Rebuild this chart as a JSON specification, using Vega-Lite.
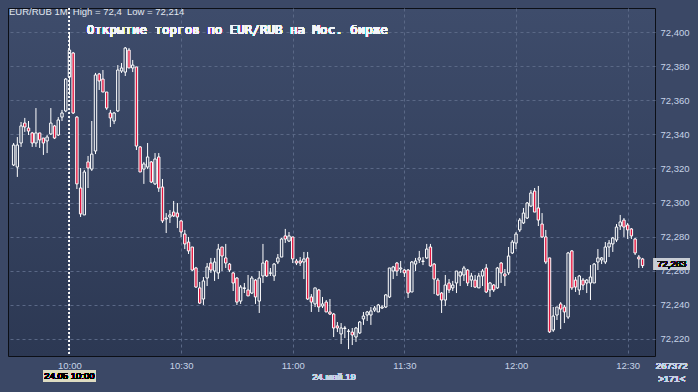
{
  "$schema": "https://vega.github.io/schema/vega-lite/v6.json",
  "width": 647,
  "height": 348,
  "autosize": {"type": "none"},
  "padding": {"left": 8, "top": 8, "right": 43, "bottom": 36},
  "background": "#3b4866",
  "config": {
    "view": {
      "stroke": "#0c0f16",
      "strokeWidth": 1,
      "fill": {"gradient": "linear", "x1": 0, "y1": 0, "x2": 0, "y2": 1, "stops": [{"offset": 0, "color": "#3e4c6b"}, {"offset": 1, "color": "#2c3853"}]}
    },
    "font": "Liberation Sans",
    "axis": {"labelOverlap": false, "labelFlush": false, "grid": true, "gridColor": "#5a6886", "gridDash": [3, 3], "gridWidth": 1, "domain": false, "ticks": false, "labelColor": "#c6d3e6", "labelFont": "Liberation Sans", "labelFontSize": 9.5},
    "axisX": {"labelPadding": 4},
    "axisY": {"labelPadding": 5, "labelBaseline": "middle", "labelExpr": "replace(format(datum.value, '.3f'), '.', ',')"}
  },
  "title": {
    "text": "EUR/RUB 1M\u00a0 High\u00a0=\u00a072,4\u00a0 Low\u00a0=\u00a072,214",
    "anchor": "start",
    "frame": "group",
    "orient": "top",
    "offset": -19,
    "dx": 1,
    "fontSize": 9.5,
    "font": "Liberation Sans",
    "fontWeight": "normal",
    "color": "#e2e8f0",
    "baseline": "bottom"
  },
  "data": {
    "format": {"parse": {"t": "date:'%H:%M'"}},
    "values": [
      {"t": "09:45", "o": 72.3220, "h": 72.3349, "l": 72.3214, "c": 72.3337},
      {"t": "09:46", "o": 72.3208, "h": 72.3384, "l": 72.3150, "c": 72.3337},
      {"t": "09:47", "o": 72.3349, "h": 72.3472, "l": 72.3326, "c": 72.3449},
      {"t": "09:48", "o": 72.3466, "h": 72.3496, "l": 72.3414, "c": 72.3443},
      {"t": "09:49", "o": 72.3437, "h": 72.3478, "l": 72.3396, "c": 72.3419},
      {"t": "09:50", "o": 72.3408, "h": 72.3414, "l": 72.3326, "c": 72.3349},
      {"t": "09:51", "o": 72.3349, "h": 72.3554, "l": 72.3326, "c": 72.3408},
      {"t": "09:52", "o": 72.3408, "h": 72.3408, "l": 72.3320, "c": 72.3367},
      {"t": "09:53", "o": 72.3378, "h": 72.3378, "l": 72.3279, "c": 72.3349},
      {"t": "09:54", "o": 72.3361, "h": 72.3396, "l": 72.3290, "c": 72.3384},
      {"t": "09:55", "o": 72.3402, "h": 72.3554, "l": 72.3396, "c": 72.3466},
      {"t": "09:56", "o": 72.3449, "h": 72.3455, "l": 72.3372, "c": 72.3378},
      {"t": "09:57", "o": 72.3396, "h": 72.3501, "l": 72.3390, "c": 72.3484},
      {"t": "09:58", "o": 72.3501, "h": 72.3543, "l": 72.3478, "c": 72.3525},
      {"t": "09:59", "o": 72.3537, "h": 72.3730, "l": 72.3530, "c": 72.3724},
      {"t": "10:00", "o": 72.3736, "h": 72.4000, "l": 72.3631, "c": 72.3894},
      {"t": "10:01", "o": 72.3877, "h": 72.3883, "l": 72.3519, "c": 72.3525},
      {"t": "10:02", "o": 72.3501, "h": 72.3507, "l": 72.3079, "c": 72.3109},
      {"t": "10:03", "o": 72.3085, "h": 72.3202, "l": 72.2915, "c": 72.2933},
      {"t": "10:04", "o": 72.2927, "h": 72.3191, "l": 72.2927, "c": 72.3179},
      {"t": "10:05", "o": 72.3238, "h": 72.3273, "l": 72.3085, "c": 72.3202},
      {"t": "10:06", "o": 72.3196, "h": 72.3478, "l": 72.3185, "c": 72.3284},
      {"t": "10:07", "o": 72.3302, "h": 72.3760, "l": 72.3284, "c": 72.3748},
      {"t": "10:08", "o": 72.3754, "h": 72.3760, "l": 72.3660, "c": 72.3713},
      {"t": "10:09", "o": 72.3724, "h": 72.3777, "l": 72.3648, "c": 72.3648},
      {"t": "10:10", "o": 72.3648, "h": 72.3648, "l": 72.3543, "c": 72.3554},
      {"t": "10:11", "o": 72.3525, "h": 72.3543, "l": 72.3443, "c": 72.3496},
      {"t": "10:12", "o": 72.3478, "h": 72.3531, "l": 72.3460, "c": 72.3525},
      {"t": "10:13", "o": 72.3537, "h": 72.3806, "l": 72.3531, "c": 72.3777},
      {"t": "10:14", "o": 72.3771, "h": 72.3818, "l": 72.3760, "c": 72.3789},
      {"t": "10:15", "o": 72.3765, "h": 72.3912, "l": 72.3742, "c": 72.3906},
      {"t": "10:16", "o": 72.3894, "h": 72.3906, "l": 72.3789, "c": 72.3789},
      {"t": "10:17", "o": 72.3789, "h": 72.3836, "l": 72.3765, "c": 72.3806},
      {"t": "10:18", "o": 72.3795, "h": 72.3795, "l": 72.3308, "c": 72.3331},
      {"t": "10:19", "o": 72.3326, "h": 72.3331, "l": 72.3179, "c": 72.3179},
      {"t": "10:20", "o": 72.3196, "h": 72.3238, "l": 72.3109, "c": 72.3226},
      {"t": "10:21", "o": 72.3208, "h": 72.3349, "l": 72.3196, "c": 72.3267},
      {"t": "10:22", "o": 72.3238, "h": 72.3243, "l": 72.3114, "c": 72.3120},
      {"t": "10:23", "o": 72.3109, "h": 72.3290, "l": 72.3103, "c": 72.3255},
      {"t": "10:24", "o": 72.3267, "h": 72.3290, "l": 72.3062, "c": 72.3085},
      {"t": "10:25", "o": 72.3091, "h": 72.3138, "l": 72.2880, "c": 72.2892},
      {"t": "10:26", "o": 72.2903, "h": 72.2938, "l": 72.2821, "c": 72.2909},
      {"t": "10:27", "o": 72.2915, "h": 72.2956, "l": 72.2880, "c": 72.2927},
      {"t": "10:28", "o": 72.2944, "h": 72.3009, "l": 72.2915, "c": 72.2921},
      {"t": "10:29", "o": 72.2938, "h": 72.2997, "l": 72.2850, "c": 72.2915},
      {"t": "10:30", "o": 72.2892, "h": 72.2897, "l": 72.2798, "c": 72.2827},
      {"t": "10:31", "o": 72.2815, "h": 72.2839, "l": 72.2727, "c": 72.2757},
      {"t": "10:32", "o": 72.2768, "h": 72.2798, "l": 72.2698, "c": 72.2716},
      {"t": "10:33", "o": 72.2739, "h": 72.2739, "l": 72.2598, "c": 72.2604},
      {"t": "10:34", "o": 72.2616, "h": 72.2622, "l": 72.2499, "c": 72.2504},
      {"t": "10:35", "o": 72.2499, "h": 72.2534, "l": 72.2405, "c": 72.2410},
      {"t": "10:36", "o": 72.2434, "h": 72.2563, "l": 72.2399, "c": 72.2540},
      {"t": "10:37", "o": 72.2557, "h": 72.2645, "l": 72.2510, "c": 72.2622},
      {"t": "10:38", "o": 72.2645, "h": 72.2675, "l": 72.2587, "c": 72.2604},
      {"t": "10:39", "o": 72.2598, "h": 72.2675, "l": 72.2540, "c": 72.2651},
      {"t": "10:40", "o": 72.2587, "h": 72.2757, "l": 72.2551, "c": 72.2727},
      {"t": "10:41", "o": 72.2739, "h": 72.2739, "l": 72.2598, "c": 72.2686},
      {"t": "10:42", "o": 72.2675, "h": 72.2757, "l": 72.2616, "c": 72.2645},
      {"t": "10:43", "o": 72.2639, "h": 72.2645, "l": 72.2592, "c": 72.2604},
      {"t": "10:44", "o": 72.2587, "h": 72.2592, "l": 72.2481, "c": 72.2528},
      {"t": "10:45", "o": 72.2557, "h": 72.2563, "l": 72.2399, "c": 72.2416},
      {"t": "10:46", "o": 72.2422, "h": 72.2516, "l": 72.2405, "c": 72.2504},
      {"t": "10:47", "o": 72.2496, "h": 72.2528, "l": 72.2469, "c": 72.2499},
      {"t": "10:48", "o": 72.2487, "h": 72.2575, "l": 72.2452, "c": 72.2452},
      {"t": "10:49", "o": 72.2469, "h": 72.2569, "l": 72.2463, "c": 72.2557},
      {"t": "10:50", "o": 72.2545, "h": 72.2551, "l": 72.2405, "c": 72.2446},
      {"t": "10:51", "o": 72.2422, "h": 72.2598, "l": 72.2352, "c": 72.2557},
      {"t": "10:52", "o": 72.2569, "h": 72.2757, "l": 72.2528, "c": 72.2645},
      {"t": "10:53", "o": 72.2657, "h": 72.2663, "l": 72.2563, "c": 72.2569},
      {"t": "10:54", "o": 72.2585, "h": 72.2616, "l": 72.2569, "c": 72.2587},
      {"t": "10:55", "o": 72.2569, "h": 72.2645, "l": 72.2540, "c": 72.2639},
      {"t": "10:56", "o": 72.2651, "h": 72.2698, "l": 72.2639, "c": 72.2675},
      {"t": "10:57", "o": 72.2680, "h": 72.2792, "l": 72.2680, "c": 72.2786},
      {"t": "10:58", "o": 72.2804, "h": 72.2845, "l": 72.2763, "c": 72.2786},
      {"t": "10:59", "o": 72.2774, "h": 72.2827, "l": 72.2768, "c": 72.2804},
      {"t": "11:00", "o": 72.2798, "h": 72.2798, "l": 72.2645, "c": 72.2669},
      {"t": "11:01", "o": 72.2657, "h": 72.2669, "l": 72.2633, "c": 72.2645},
      {"t": "11:02", "o": 72.2657, "h": 72.2680, "l": 72.2628, "c": 72.2645},
      {"t": "11:03", "o": 72.2651, "h": 72.2710, "l": 72.2551, "c": 72.2669},
      {"t": "11:04", "o": 72.2675, "h": 72.2710, "l": 72.2428, "c": 72.2434},
      {"t": "11:05", "o": 72.2446, "h": 72.2463, "l": 72.2358, "c": 72.2416},
      {"t": "11:06", "o": 72.2405, "h": 72.2499, "l": 72.2387, "c": 72.2499},
      {"t": "11:07", "o": 72.2487, "h": 72.2493, "l": 72.2358, "c": 72.2387},
      {"t": "11:08", "o": 72.2393, "h": 72.2446, "l": 72.2381, "c": 72.2405},
      {"t": "11:09", "o": 72.2416, "h": 72.2428, "l": 72.2358, "c": 72.2358},
      {"t": "11:10", "o": 72.2358, "h": 72.2434, "l": 72.2340, "c": 72.2346},
      {"t": "11:11", "o": 72.2346, "h": 72.2352, "l": 72.2211, "c": 72.2264},
      {"t": "11:12", "o": 72.2276, "h": 72.2299, "l": 72.2240, "c": 72.2264},
      {"t": "11:13", "o": 72.2229, "h": 72.2293, "l": 72.2170, "c": 72.2264},
      {"t": "11:14", "o": 72.2261, "h": 72.2276, "l": 72.2205, "c": 72.2264},
      {"t": "11:15", "o": 72.2244, "h": 72.2258, "l": 72.2140, "c": 72.2246},
      {"t": "11:16", "o": 72.2240, "h": 72.2264, "l": 72.2164, "c": 72.2223},
      {"t": "11:17", "o": 72.2211, "h": 72.2270, "l": 72.2182, "c": 72.2264},
      {"t": "11:18", "o": 72.2235, "h": 72.2305, "l": 72.2229, "c": 72.2299},
      {"t": "11:19", "o": 72.2317, "h": 72.2358, "l": 72.2282, "c": 72.2334},
      {"t": "11:20", "o": 72.2340, "h": 72.2364, "l": 72.2305, "c": 72.2358},
      {"t": "11:21", "o": 72.2340, "h": 72.2387, "l": 72.2282, "c": 72.2364},
      {"t": "11:22", "o": 72.2369, "h": 72.2393, "l": 72.2358, "c": 72.2381},
      {"t": "11:23", "o": 72.2358, "h": 72.2405, "l": 72.2358, "c": 72.2399},
      {"t": "11:24", "o": 72.2381, "h": 72.2399, "l": 72.2375, "c": 72.2387},
      {"t": "11:25", "o": 72.2387, "h": 72.2463, "l": 72.2381, "c": 72.2458},
      {"t": "11:26", "o": 72.2446, "h": 72.2616, "l": 72.2440, "c": 72.2616},
      {"t": "11:27", "o": 72.2598, "h": 72.2628, "l": 72.2551, "c": 72.2622},
      {"t": "11:28", "o": 72.2645, "h": 72.2651, "l": 72.2569, "c": 72.2598},
      {"t": "11:29", "o": 72.2610, "h": 72.2657, "l": 72.2587, "c": 72.2616},
      {"t": "11:30", "o": 72.2604, "h": 72.2610, "l": 72.2563, "c": 72.2587},
      {"t": "11:31", "o": 72.2604, "h": 72.2610, "l": 72.2440, "c": 72.2469},
      {"t": "11:32", "o": 72.2475, "h": 72.2657, "l": 72.2475, "c": 72.2651},
      {"t": "11:33", "o": 72.2639, "h": 72.2675, "l": 72.2598, "c": 72.2657},
      {"t": "11:34", "o": 72.2663, "h": 72.2716, "l": 72.2645, "c": 72.2675},
      {"t": "11:35", "o": 72.2654, "h": 72.2680, "l": 72.2633, "c": 72.2657},
      {"t": "11:36", "o": 72.2675, "h": 72.2757, "l": 72.2669, "c": 72.2727},
      {"t": "11:37", "o": 72.2739, "h": 72.2757, "l": 72.2622, "c": 72.2628},
      {"t": "11:38", "o": 72.2639, "h": 72.2645, "l": 72.2463, "c": 72.2551},
      {"t": "11:39", "o": 72.2545, "h": 72.2557, "l": 72.2452, "c": 72.2458},
      {"t": "11:40", "o": 72.2469, "h": 72.2475, "l": 72.2352, "c": 72.2428},
      {"t": "11:41", "o": 72.2428, "h": 72.2575, "l": 72.2393, "c": 72.2516},
      {"t": "11:42", "o": 72.2528, "h": 72.2551, "l": 72.2469, "c": 72.2487},
      {"t": "11:43", "o": 72.2499, "h": 72.2540, "l": 72.2481, "c": 72.2516},
      {"t": "11:44", "o": 72.2528, "h": 72.2598, "l": 72.2469, "c": 72.2598},
      {"t": "11:45", "o": 72.2569, "h": 72.2598, "l": 72.2510, "c": 72.2592},
      {"t": "11:46", "o": 72.2575, "h": 72.2628, "l": 72.2540, "c": 72.2616},
      {"t": "11:47", "o": 72.2604, "h": 72.2610, "l": 72.2510, "c": 72.2528},
      {"t": "11:48", "o": 72.2545, "h": 72.2587, "l": 72.2504, "c": 72.2569},
      {"t": "11:49", "o": 72.2545, "h": 72.2575, "l": 72.2499, "c": 72.2504},
      {"t": "11:50", "o": 72.2499, "h": 72.2587, "l": 72.2499, "c": 72.2569},
      {"t": "11:51", "o": 72.2569, "h": 72.2610, "l": 72.2510, "c": 72.2598},
      {"t": "11:52", "o": 72.2616, "h": 72.2639, "l": 72.2469, "c": 72.2475},
      {"t": "11:53", "o": 72.2487, "h": 72.2534, "l": 72.2446, "c": 72.2528},
      {"t": "11:54", "o": 72.2516, "h": 72.2522, "l": 72.2475, "c": 72.2487},
      {"t": "11:55", "o": 72.2499, "h": 72.2622, "l": 72.2493, "c": 72.2616},
      {"t": "11:56", "o": 72.2645, "h": 72.2651, "l": 72.2528, "c": 72.2587},
      {"t": "11:57", "o": 72.2581, "h": 72.2610, "l": 72.2510, "c": 72.2569},
      {"t": "11:58", "o": 72.2587, "h": 72.2739, "l": 72.2575, "c": 72.2686},
      {"t": "11:59", "o": 72.2704, "h": 72.2780, "l": 72.2698, "c": 72.2768},
      {"t": "12:00", "o": 72.2762, "h": 72.2827, "l": 72.2727, "c": 72.2815},
      {"t": "12:01", "o": 72.2839, "h": 72.2909, "l": 72.2827, "c": 72.2897},
      {"t": "12:02", "o": 72.2880, "h": 72.2968, "l": 72.2874, "c": 72.2938},
      {"t": "12:03", "o": 72.2909, "h": 72.3003, "l": 72.2903, "c": 72.2997},
      {"t": "12:04", "o": 72.2979, "h": 72.3073, "l": 72.2974, "c": 72.3056},
      {"t": "12:05", "o": 72.3067, "h": 72.3085, "l": 72.2944, "c": 72.2944},
      {"t": "12:06", "o": 72.2968, "h": 72.3097, "l": 72.2862, "c": 72.2897},
      {"t": "12:07", "o": 72.2874, "h": 72.2938, "l": 72.2792, "c": 72.2798},
      {"t": "12:08", "o": 72.2798, "h": 72.2839, "l": 72.2639, "c": 72.2651},
      {"t": "12:09", "o": 72.2675, "h": 72.2675, "l": 72.2235, "c": 72.2241},
      {"t": "12:10", "o": 72.2252, "h": 72.2387, "l": 72.2241, "c": 72.2334},
      {"t": "12:11", "o": 72.2340, "h": 72.2387, "l": 72.2311, "c": 72.2387},
      {"t": "12:12", "o": 72.2405, "h": 72.2416, "l": 72.2258, "c": 72.2375},
      {"t": "12:13", "o": 72.2387, "h": 72.2399, "l": 72.2293, "c": 72.2358},
      {"t": "12:14", "o": 72.2328, "h": 72.2710, "l": 72.2317, "c": 72.2704},
      {"t": "12:15", "o": 72.2716, "h": 72.2721, "l": 72.2487, "c": 72.2499},
      {"t": "12:16", "o": 72.2545, "h": 72.2563, "l": 72.2475, "c": 72.2504},
      {"t": "12:17", "o": 72.2487, "h": 72.2575, "l": 72.2458, "c": 72.2569},
      {"t": "12:18", "o": 72.2545, "h": 72.2557, "l": 72.2487, "c": 72.2516},
      {"t": "12:19", "o": 72.2528, "h": 72.2551, "l": 72.2469, "c": 72.2545},
      {"t": "12:20", "o": 72.2528, "h": 72.2633, "l": 72.2428, "c": 72.2563},
      {"t": "12:21", "o": 72.2528, "h": 72.2645, "l": 72.2528, "c": 72.2639},
      {"t": "12:22", "o": 72.2651, "h": 72.2727, "l": 72.2604, "c": 72.2675},
      {"t": "12:23", "o": 72.2663, "h": 72.2680, "l": 72.2639, "c": 72.2675},
      {"t": "12:24", "o": 72.2651, "h": 72.2768, "l": 72.2639, "c": 72.2739},
      {"t": "12:25", "o": 72.2739, "h": 72.2780, "l": 72.2680, "c": 72.2762},
      {"t": "12:26", "o": 72.2757, "h": 72.2798, "l": 72.2710, "c": 72.2792},
      {"t": "12:27", "o": 72.2780, "h": 72.2874, "l": 72.2768, "c": 72.2856},
      {"t": "12:28", "o": 72.2862, "h": 72.2927, "l": 72.2839, "c": 72.2886},
      {"t": "12:29", "o": 72.2897, "h": 72.2909, "l": 72.2798, "c": 72.2856},
      {"t": "12:30", "o": 72.2868, "h": 72.2880, "l": 72.2786, "c": 72.2839},
      {"t": "12:31", "o": 72.2845, "h": 72.2850, "l": 72.2786, "c": 72.2804},
      {"t": "12:32", "o": 72.2786, "h": 72.2792, "l": 72.2692, "c": 72.2704},
      {"t": "12:33", "o": 72.2680, "h": 72.2692, "l": 72.2616, "c": 72.2669},
      {"t": "12:34", "o": 72.2669, "h": 72.2675, "l": 72.2616, "c": 72.2630}
    ]
  },
  "layer": [
    {
      "mark": {"type": "rule", "color": "#ffffff", "strokeWidth": 1},
      "encoding": {
        "x": {
          "field": "t",
          "type": "temporal",
          "scale": {"domain": [{"year": 1900, "month": 1, "date": 1, "hours": 9, "minutes": 44, "seconds": 50}, {"year": 1900, "month": 1, "date": 1, "hours": 12, "minutes": 36}]},
          "axis": {"title": null, "format": "%H:%M", "values": [{"year": 1900, "month": 1, "date": 1, "hours": 10, "minutes": 0}, {"year": 1900, "month": 1, "date": 1, "hours": 10, "minutes": 30}, {"year": 1900, "month": 1, "date": 1, "hours": 11, "minutes": 0}, {"year": 1900, "month": 1, "date": 1, "hours": 11, "minutes": 30}, {"year": 1900, "month": 1, "date": 1, "hours": 12, "minutes": 0}, {"year": 1900, "month": 1, "date": 1, "hours": 12, "minutes": 30}]}
        },
        "y": {
          "field": "l",
          "type": "quantitative",
          "scale": {"domain": [72.20997, 72.41408], "nice": false, "zero": false},
          "axis": {"title": null, "orient": "right", "values": [72.22, 72.24, 72.26, 72.28, 72.3, 72.32, 72.34, 72.36, 72.38, 72.4]}
        },
        "y2": {"field": "h"}
      }
    },
    {
      "mark": {"type": "bar", "width": 2.4, "stroke": "#ffffff", "strokeWidth": 1},
      "encoding": {
        "x": {"field": "t", "type": "temporal", "axis": {"title": null, "format": "%H:%M", "values": [{"year": 1900, "month": 1, "date": 1, "hours": 10, "minutes": 0}, {"year": 1900, "month": 1, "date": 1, "hours": 10, "minutes": 30}, {"year": 1900, "month": 1, "date": 1, "hours": 11, "minutes": 0}, {"year": 1900, "month": 1, "date": 1, "hours": 11, "minutes": 30}, {"year": 1900, "month": 1, "date": 1, "hours": 12, "minutes": 0}, {"year": 1900, "month": 1, "date": 1, "hours": 12, "minutes": 30}]}},
        "y": {"field": "o", "type": "quantitative", "axis": {"title": null, "orient": "right", "values": [72.22, 72.24, 72.26, 72.28, 72.3, 72.32, 72.34, 72.36, 72.38, 72.4]}},
        "y2": {"field": "c"},
        "fill": {"condition": {"test": "datum.c < datum.o", "value": "#e3163f"}, "value": "#35425f"}
      }
    },
    {
      "mark": {"type": "rule", "color": "#ffffff", "strokeWidth": 1, "strokeDash": [2, 2]},
      "encoding": {
        "x": {"datum": {"year": 1900, "month": 1, "date": 1, "hours": 10, "minutes": 0}, "type": "temporal", "axis": {"title": null, "format": "%H:%M", "values": [{"year": 1900, "month": 1, "date": 1, "hours": 10, "minutes": 0}, {"year": 1900, "month": 1, "date": 1, "hours": 10, "minutes": 30}, {"year": 1900, "month": 1, "date": 1, "hours": 11, "minutes": 0}, {"year": 1900, "month": 1, "date": 1, "hours": 11, "minutes": 30}, {"year": 1900, "month": 1, "date": 1, "hours": 12, "minutes": 0}, {"year": 1900, "month": 1, "date": 1, "hours": 12, "minutes": 30}]}}
      }
    },
    {
      "encoding": {
        "x": {"datum": {"year": 1900, "month": 1, "date": 1, "hours": 10, "minutes": 4, "seconds": 40}, "type": "temporal", "axis": {"title": null, "format": "%H:%M", "values": [{"year": 1900, "month": 1, "date": 1, "hours": 10, "minutes": 0}, {"year": 1900, "month": 1, "date": 1, "hours": 10, "minutes": 30}, {"year": 1900, "month": 1, "date": 1, "hours": 11, "minutes": 0}, {"year": 1900, "month": 1, "date": 1, "hours": 11, "minutes": 30}, {"year": 1900, "month": 1, "date": 1, "hours": 12, "minutes": 0}, {"year": 1900, "month": 1, "date": 1, "hours": 12, "minutes": 30}]}},
        "y": {"datum": 72.4012, "type": "quantitative", "axis": {"title": null, "orient": "right", "values": [72.22, 72.24, 72.26, 72.28, 72.3, 72.32, 72.34, 72.36, 72.38, 72.4]}},
        "text": {"value": "Открытие торгов по EUR/RUB на Мос. бирже"}
      },
      "mark": {"type": "text", "align": "left", "baseline": "middle", "font": "DejaVu Sans Mono", "fontSize": 12.5, "color": "#f4f6fa"}
    },
    {
      "mark": {"type": "rect", "color": "#dedcc2"},
      "encoding": {
        "x": {"datum": {"year": 1900, "month": 1, "date": 1, "hours": 9, "minutes": 53, "seconds": 2}, "type": "temporal", "axis": {"title": null, "format": "%H:%M", "values": [{"year": 1900, "month": 1, "date": 1, "hours": 10, "minutes": 0}, {"year": 1900, "month": 1, "date": 1, "hours": 10, "minutes": 30}, {"year": 1900, "month": 1, "date": 1, "hours": 11, "minutes": 0}, {"year": 1900, "month": 1, "date": 1, "hours": 11, "minutes": 30}, {"year": 1900, "month": 1, "date": 1, "hours": 12, "minutes": 0}, {"year": 1900, "month": 1, "date": 1, "hours": 12, "minutes": 30}]}},
        "x2": {"datum": {"year": 1900, "month": 1, "date": 1, "hours": 10, "minutes": 7, "seconds": 4}},
        "y": {"datum": 72.2018, "type": "quantitative", "axis": {"title": null, "orient": "right", "values": [72.22, 72.24, 72.26, 72.28, 72.3, 72.32, 72.34, 72.36, 72.38, 72.4]}},
        "y2": {"datum": 72.1947}
      }
    },
    {
      "mark": {"type": "text", "align": "center", "baseline": "middle", "font": "Liberation Sans", "fontSize": 9.5, "color": "#000000"},
      "encoding": {
        "x": {"datum": {"year": 1900, "month": 1, "date": 1, "hours": 10, "minutes": 0}, "type": "temporal", "axis": {"title": null, "format": "%H:%M", "values": [{"year": 1900, "month": 1, "date": 1, "hours": 10, "minutes": 0}, {"year": 1900, "month": 1, "date": 1, "hours": 10, "minutes": 30}, {"year": 1900, "month": 1, "date": 1, "hours": 11, "minutes": 0}, {"year": 1900, "month": 1, "date": 1, "hours": 11, "minutes": 30}, {"year": 1900, "month": 1, "date": 1, "hours": 12, "minutes": 0}, {"year": 1900, "month": 1, "date": 1, "hours": 12, "minutes": 30}]}},
        "y": {"datum": 72.1982, "type": "quantitative", "axis": {"title": null, "orient": "right", "values": [72.22, 72.24, 72.26, 72.28, 72.3, 72.32, 72.34, 72.36, 72.38, 72.4]}},
        "text": {"value": "24.05 10:00"}
      }
    },
    {
      "mark": {"type": "text", "align": "center", "baseline": "middle", "font": "Liberation Sans", "fontSize": 9.5, "color": "#c6d3e6"},
      "encoding": {
        "x": {"datum": {"year": 1900, "month": 1, "date": 1, "hours": 11, "minutes": 11, "seconds": 5}, "type": "temporal", "axis": {"title": null, "format": "%H:%M", "values": [{"year": 1900, "month": 1, "date": 1, "hours": 10, "minutes": 0}, {"year": 1900, "month": 1, "date": 1, "hours": 10, "minutes": 30}, {"year": 1900, "month": 1, "date": 1, "hours": 11, "minutes": 0}, {"year": 1900, "month": 1, "date": 1, "hours": 11, "minutes": 30}, {"year": 1900, "month": 1, "date": 1, "hours": 12, "minutes": 0}, {"year": 1900, "month": 1, "date": 1, "hours": 12, "minutes": 30}]}},
        "y": {"datum": 72.1977, "type": "quantitative", "axis": {"title": null, "orient": "right", "values": [72.22, 72.24, 72.26, 72.28, 72.3, 72.32, 72.34, 72.36, 72.38, 72.4]}},
        "text": {"value": "24.май.19"}
      }
    },
    {
      "mark": {"type": "text", "align": "center", "baseline": "middle", "font": "Liberation Sans", "fontSize": 9.5, "color": "#c6d3e6"},
      "encoding": {
        "x": {"datum": {"year": 1900, "month": 1, "date": 1, "hours": 12, "minutes": 41, "seconds": 50}, "type": "temporal", "axis": {"title": null, "format": "%H:%M", "values": [{"year": 1900, "month": 1, "date": 1, "hours": 10, "minutes": 0}, {"year": 1900, "month": 1, "date": 1, "hours": 10, "minutes": 30}, {"year": 1900, "month": 1, "date": 1, "hours": 11, "minutes": 0}, {"year": 1900, "month": 1, "date": 1, "hours": 11, "minutes": 30}, {"year": 1900, "month": 1, "date": 1, "hours": 12, "minutes": 0}, {"year": 1900, "month": 1, "date": 1, "hours": 12, "minutes": 30}]}},
        "y": {"datum": 72.2041, "type": "quantitative", "axis": {"title": null, "orient": "right", "values": [72.22, 72.24, 72.26, 72.28, 72.3, 72.32, 72.34, 72.36, 72.38, 72.4]}},
        "text": {"value": "267372"}
      }
    },
    {
      "mark": {"type": "text", "align": "center", "baseline": "middle", "font": "Liberation Sans", "fontSize": 9.5, "color": "#c6d3e6"},
      "encoding": {
        "x": {"datum": {"year": 1900, "month": 1, "date": 1, "hours": 12, "minutes": 41, "seconds": 50}, "type": "temporal", "axis": {"title": null, "format": "%H:%M", "values": [{"year": 1900, "month": 1, "date": 1, "hours": 10, "minutes": 0}, {"year": 1900, "month": 1, "date": 1, "hours": 10, "minutes": 30}, {"year": 1900, "month": 1, "date": 1, "hours": 11, "minutes": 0}, {"year": 1900, "month": 1, "date": 1, "hours": 11, "minutes": 30}, {"year": 1900, "month": 1, "date": 1, "hours": 12, "minutes": 0}, {"year": 1900, "month": 1, "date": 1, "hours": 12, "minutes": 30}]}},
        "y": {"datum": 72.1965, "type": "quantitative", "axis": {"title": null, "orient": "right", "values": [72.22, 72.24, 72.26, 72.28, 72.3, 72.32, 72.34, 72.36, 72.38, 72.4]}},
        "text": {"value": ">171<"}
      }
    },
    {
      "mark": {"type": "rect", "color": "#c8cdd5"},
      "encoding": {
        "x": {"datum": {"year": 1900, "month": 1, "date": 1, "hours": 12, "minutes": 37, "seconds": 4}, "type": "temporal", "axis": {"title": null, "format": "%H:%M", "values": [{"year": 1900, "month": 1, "date": 1, "hours": 10, "minutes": 0}, {"year": 1900, "month": 1, "date": 1, "hours": 10, "minutes": 30}, {"year": 1900, "month": 1, "date": 1, "hours": 11, "minutes": 0}, {"year": 1900, "month": 1, "date": 1, "hours": 11, "minutes": 30}, {"year": 1900, "month": 1, "date": 1, "hours": 12, "minutes": 0}, {"year": 1900, "month": 1, "date": 1, "hours": 12, "minutes": 30}]}},
        "x2": {"datum": {"year": 1900, "month": 1, "date": 1, "hours": 12, "minutes": 46, "seconds": 35}},
        "y": {"datum": 72.2675, "type": "quantitative", "axis": {"title": null, "orient": "right", "values": [72.22, 72.24, 72.26, 72.28, 72.3, 72.32, 72.34, 72.36, 72.38, 72.4]}},
        "y2": {"datum": 72.2604}
      }
    },
    {
      "mark": {"type": "text", "align": "center", "baseline": "middle", "font": "Liberation Sans", "fontSize": 9.5, "color": "#111111"},
      "encoding": {
        "x": {"datum": {"year": 1900, "month": 1, "date": 1, "hours": 12, "minutes": 41, "seconds": 50}, "type": "temporal", "axis": {"title": null, "format": "%H:%M", "values": [{"year": 1900, "month": 1, "date": 1, "hours": 10, "minutes": 0}, {"year": 1900, "month": 1, "date": 1, "hours": 10, "minutes": 30}, {"year": 1900, "month": 1, "date": 1, "hours": 11, "minutes": 0}, {"year": 1900, "month": 1, "date": 1, "hours": 11, "minutes": 30}, {"year": 1900, "month": 1, "date": 1, "hours": 12, "minutes": 0}, {"year": 1900, "month": 1, "date": 1, "hours": 12, "minutes": 30}]}},
        "y": {"datum": 72.2637, "type": "quantitative", "axis": {"title": null, "orient": "right", "values": [72.22, 72.24, 72.26, 72.28, 72.3, 72.32, 72.34, 72.36, 72.38, 72.4]}},
        "text": {"value": "72,263"}
      }
    }
  ]
}
